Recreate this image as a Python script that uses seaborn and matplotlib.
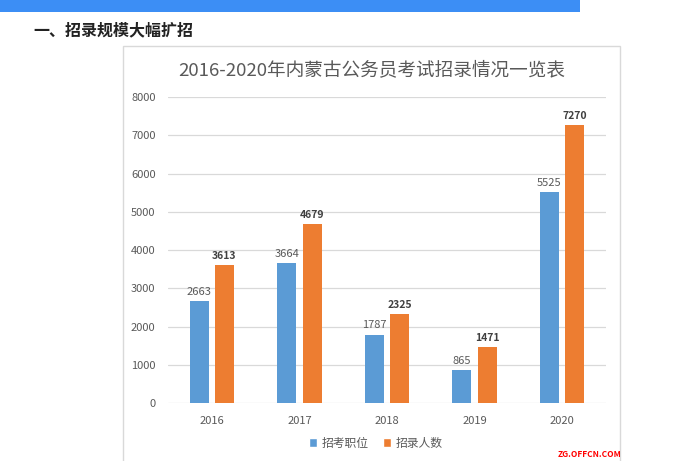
import pandas as pd
import seaborn as sns
import matplotlib.pyplot as plt
from matplotlib.patches import Rectangle

# 数据
years = ['2016', '2017', '2018', '2019', '2020']
positions = [2663, 3664, 1787, 865, 5525]      # 招考职位
recruits = [3613, 4679, 2325, 1471, 7270]      # 招录人数
series_names = ['招考职位', '招录人数']
yticks = [0, 1000, 2000, 3000, 4000, 5000, 6000, 7000, 8000]

df = pd.DataFrame({
    '年份': years * 2,
    '人数': positions + recruits,
    '类型': [series_names[0]] * len(years) + [series_names[1]] * len(years),
})

sns.set_theme(style='white')
plt.rcParams['font.family'] = ['Noto Sans CJK SC', 'DejaVu Sans']
plt.rcParams['axes.unicode_minus'] = False

W, H = 681, 461
fig = plt.figure(figsize=(W / 100, H / 100), dpi=100)
fig.patch.set_facecolor('white')

def px(x0, y0, x1, y1):
    """像素坐标转换为figure坐标"""
    return [x0 / W, 1 - y1 / H, (x1 - x0) / W, (y1 - y0) / H]

# 顶部蓝色横条与小标题
fig.patches.append(Rectangle((0, 1 - 12 / H), 580 / W, 12 / H, transform=fig.transFigure,
                             facecolor='#3C8EF5', edgecolor='none'))
fig.text(33 / W, 1 - 30 / H, '一、招录规模大幅扩招', fontsize=11.5, fontweight='bold',
         color='#222222', va='center', ha='left')

# 图表外框
fig.patches.append(Rectangle((123 / W, -0.05), (620 - 123) / W, 1 - 46 / H + 0.05,
                             transform=fig.transFigure, facecolor='none',
                             edgecolor='#D9D9D9', linewidth=1))

ax = fig.add_axes(px(168, 97, 606, 403))
sns.barplot(data=df, x='年份', y='人数', hue='类型', order=years, hue_order=series_names,
            palette=['#5B9BD5', '#ED7D31'], width=0.58, gap=0.25, ax=ax,
            saturation=1, edgecolor='none', legend=False)

ax.set_ylim(0, 8000)
ax.set_xlim(-0.5, 4.5)
ax.set_yticks(yticks)
ax.set_yticklabels([str(t) for t in yticks])
ax.yaxis.grid(True, color='#D9D9D9', linewidth=0.9)
ax.set_axisbelow(True)
for s in ax.spines.values():
    s.set_visible(False)
ax.tick_params(axis='both', length=0, labelsize=8, colors='#595959')
ax.tick_params(axis='x', pad=9)
ax.tick_params(axis='y', pad=9)
ax.set_xlabel('')
ax.set_ylabel('')

# 数据标签
for i, c in enumerate(ax.containers):
    ax.bar_label(c, labels=[str(v) for v in (positions if i == 0 else recruits)],
                 padding=3, fontsize=8 if i == 0 else 7.5,
                 color='#595959' if i == 0 else '#404040',
                 fontweight='normal' if i == 0 else 'bold')

fig.text(372 / W, 1 - 70 / H, '2016-2020年内蒙古公务员考试招录情况一览表', fontsize=13.4,
         color='#595959', ha='center', va='center')

# 图例
handles = [Rectangle((0, 0), 1, 1, facecolor=c) for c in ['#5B9BD5', '#ED7D31']]
fig.legend(handles, series_names, loc='center', bbox_to_anchor=(376 / W, 1 - 443 / H),
           ncol=2, frameon=False, fontsize=8.5, labelcolor='#595959',
           handlelength=0.7, handleheight=0.7, handletextpad=0.4, columnspacing=1.2)

# 水印
fig.text(558 / W, 1 - 459 / H, 'ZG.OFFCN.COM', fontsize=6, fontweight='bold',
         color='#FF0000', ha='left', va='bottom')

fig.savefig('out.png', dpi=100)
